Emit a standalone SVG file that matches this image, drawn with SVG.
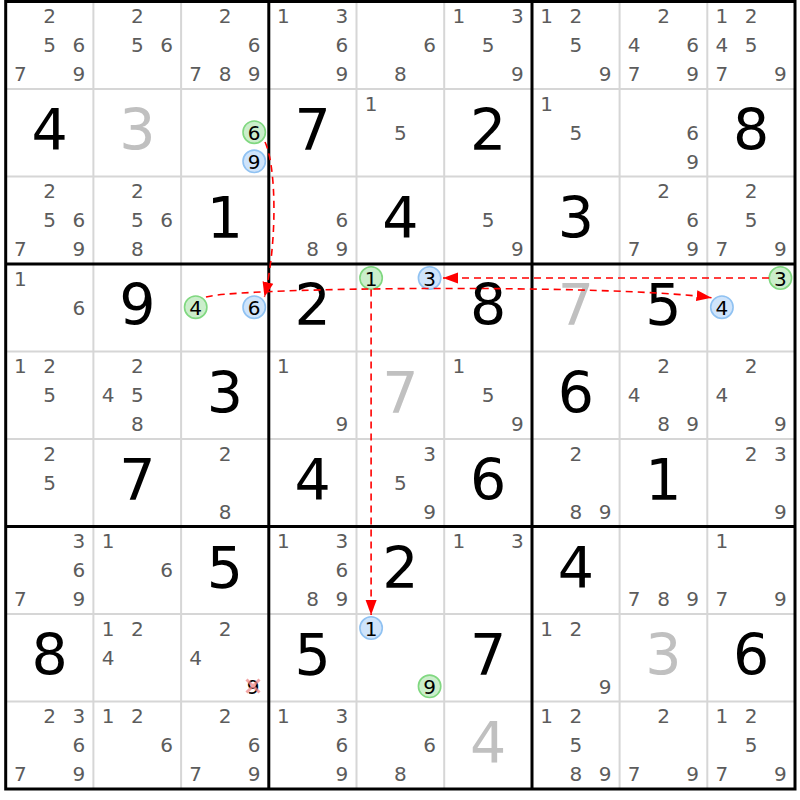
<svg xmlns="http://www.w3.org/2000/svg" width="800" height="800" viewBox="0 0 800 800">
<style>
text{font-family:"DejaVu Sans","Liberation Sans",sans-serif;text-anchor:middle}
.c{font-size:20px;fill:#5c5c5c}
.k{font-size:20px;fill:#000}
.b{font-size:57px;fill:#000}
.g{font-size:57px;fill:#c0c0c0}
.thin{stroke:#d6d6d6;stroke-width:2;fill:none}
.thick{stroke:#000;stroke-width:3;fill:none}
.gc{fill:#cbeecb;stroke:#80d880;stroke-width:1.6}
.bc{fill:#cfe4fb;stroke:#90c2f2;stroke-width:1.6}
.arr{stroke:#f00;stroke-width:1.6;fill:none;stroke-dasharray:7,5;marker-end:url(#ah)}
.x{stroke:#f08888;stroke-width:3;opacity:0.75}
</style>
<defs>
<marker id="ah" markerUnits="userSpaceOnUse" markerWidth="16" markerHeight="12" refX="15" refY="6" orient="auto">
<path d="M0,0.5 L15,6 L0,11.5 z" fill="#f00"/>
</marker>
</defs>
<rect x="0" y="0" width="800" height="800" fill="#fff"/>
<g id="grid">
<path class="thin" d="M93.4,1.5V789M181.1,1.5V789M356.5,1.5V789M444.2,1.5V789M619.6,1.5V789M707.3,1.5V789M5.7,89H795M5.7,176.5H795M5.7,351.5H795M5.7,439H795M5.7,614H795M5.7,701.5H795"/>
<path class="thick" d="M268.8,1.5V789M532,1.5V789M5.7,264H795M5.7,526.5H795"/>
<rect class="thick" x="5.7" y="1.5" width="789.3" height="787.5"/>
</g>
<!-- Row 0 -->
<g id="r0c0"><text class="c" x="49.6" y="23">2</text><text class="c" x="49.6" y="52.2">5</text><text class="c" x="78.8" y="52.2">6</text><text class="c" x="20.3" y="81.3">7</text><text class="c" x="78.8" y="81.3">9</text></g>
<g id="r0c1"><text class="c" x="137.3" y="23">2</text><text class="c" x="137.3" y="52.2">5</text><text class="c" x="166.5" y="52.2">6</text></g>
<g id="r0c2"><text class="c" x="225" y="23">2</text><text class="c" x="254.2" y="52.2">6</text><text class="c" x="195.7" y="81.3">7</text><text class="c" x="225" y="81.3">8</text><text class="c" x="254.2" y="81.3">9</text></g>
<g id="r0c3"><text class="c" x="283.4" y="23">1</text><text class="c" x="341.9" y="23">3</text><text class="c" x="341.9" y="52.2">6</text><text class="c" x="341.9" y="81.3">9</text></g>
<g id="r0c4"><text class="c" x="429.6" y="52.2">6</text><text class="c" x="400.4" y="81.3">8</text></g>
<g id="r0c5"><text class="c" x="458.8" y="23">1</text><text class="c" x="517.3" y="23">3</text><text class="c" x="488.1" y="52.2">5</text><text class="c" x="517.3" y="81.3">9</text></g>
<g id="r0c6"><text class="c" x="546.5" y="23">1</text><text class="c" x="575.8" y="23">2</text><text class="c" x="575.8" y="52.2">5</text><text class="c" x="605" y="81.3">9</text></g>
<g id="r0c7"><text class="c" x="663.5" y="23">2</text><text class="c" x="634.2" y="52.2">4</text><text class="c" x="692.7" y="52.2">6</text><text class="c" x="634.2" y="81.3">7</text><text class="c" x="692.7" y="81.3">9</text></g>
<g id="r0c8"><text class="c" x="721.9" y="23">1</text><text class="c" x="751.2" y="23">2</text><text class="c" x="721.9" y="52.2">4</text><text class="c" x="751.2" y="52.2">5</text><text class="c" x="721.9" y="81.3">7</text><text class="c" x="780.4" y="81.3">9</text></g>
<!-- Row 1 -->
<g id="r1c0"><text class="b" x="49.6" y="150">4</text></g>
<g id="r1c1"><text class="g" x="137.3" y="150">3</text></g>
<g id="r1c2"><circle class="gc" cx="254.2" cy="132.2" r="11.2"/><text class="k" x="254.2" y="139.7">6</text><circle class="bc" cx="254.2" cy="161.3" r="11.2"/><text class="k" x="254.2" y="168.8">9</text></g>
<g id="r1c3"><text class="b" x="312.7" y="150">7</text></g>
<g id="r1c4"><text class="c" x="371.1" y="110.5">1</text><text class="c" x="400.4" y="139.7">5</text></g>
<g id="r1c5"><text class="b" x="488.1" y="150">2</text></g>
<g id="r1c6"><text class="c" x="546.5" y="110.5">1</text><text class="c" x="575.8" y="139.7">5</text></g>
<g id="r1c7"><text class="c" x="692.7" y="139.7">6</text><text class="c" x="692.7" y="168.8">9</text></g>
<g id="r1c8"><text class="b" x="751.2" y="150">8</text></g>
<!-- Row 2 -->
<g id="r2c0"><text class="c" x="49.6" y="198">2</text><text class="c" x="49.6" y="227.2">5</text><text class="c" x="78.8" y="227.2">6</text><text class="c" x="20.3" y="256.3">7</text><text class="c" x="78.8" y="256.3">9</text></g>
<g id="r2c1"><text class="c" x="137.3" y="198">2</text><text class="c" x="137.3" y="227.2">5</text><text class="c" x="166.5" y="227.2">6</text><text class="c" x="137.3" y="256.3">8</text></g>
<g id="r2c2"><text class="b" x="225" y="237.5">1</text></g>
<g id="r2c3"><text class="c" x="341.9" y="227.2">6</text><text class="c" x="312.7" y="256.3">8</text><text class="c" x="341.9" y="256.3">9</text></g>
<g id="r2c4"><text class="b" x="400.4" y="237.5">4</text></g>
<g id="r2c5"><text class="c" x="488.1" y="227.2">5</text><text class="c" x="517.3" y="256.3">9</text></g>
<g id="r2c6"><text class="b" x="575.8" y="237.5">3</text></g>
<g id="r2c7"><text class="c" x="663.5" y="198">2</text><text class="c" x="692.7" y="227.2">6</text><text class="c" x="634.2" y="256.3">7</text><text class="c" x="692.7" y="256.3">9</text></g>
<g id="r2c8"><text class="c" x="751.2" y="198">2</text><text class="c" x="751.2" y="227.2">5</text><text class="c" x="721.9" y="256.3">7</text><text class="c" x="780.4" y="256.3">9</text></g>
<!-- Row 3 -->
<g id="r3c0"><text class="c" x="20.3" y="285.5">1</text><text class="c" x="78.8" y="314.7">6</text></g>
<g id="r3c1"><text class="b" x="137.3" y="325">9</text></g>
<g id="r3c2"><circle class="gc" cx="195.7" cy="307.2" r="11.2"/><text class="k" x="195.7" y="314.7">4</text><circle class="bc" cx="254.2" cy="307.2" r="11.2"/><text class="k" x="254.2" y="314.7">6</text></g>
<g id="r3c3"><text class="b" x="312.7" y="325">2</text></g>
<g id="r3c4"><circle class="gc" cx="371.1" cy="278" r="11.2"/><text class="k" x="371.1" y="285.5">1</text><circle class="bc" cx="429.6" cy="278" r="11.2"/><text class="k" x="429.6" y="285.5">3</text></g>
<g id="r3c5"><text class="b" x="488.1" y="325">8</text></g>
<g id="r3c6"><text class="g" x="575.8" y="325">7</text></g>
<g id="r3c7"><text class="b" x="663.5" y="325">5</text></g>
<g id="r3c8"><circle class="gc" cx="780.4" cy="278" r="11.2"/><text class="k" x="780.4" y="285.5">3</text><circle class="bc" cx="721.9" cy="307.2" r="11.2"/><text class="k" x="721.9" y="314.7">4</text></g>
<!-- Row 4 -->
<g id="r4c0"><text class="c" x="20.3" y="373">1</text><text class="c" x="49.6" y="373">2</text><text class="c" x="49.6" y="402.2">5</text></g>
<g id="r4c1"><text class="c" x="137.3" y="373">2</text><text class="c" x="108" y="402.2">4</text><text class="c" x="137.3" y="402.2">5</text><text class="c" x="137.3" y="431.3">8</text></g>
<g id="r4c2"><text class="b" x="225" y="412.5">3</text></g>
<g id="r4c3"><text class="c" x="283.4" y="373">1</text><text class="c" x="341.9" y="431.3">9</text></g>
<g id="r4c4"><text class="g" x="400.4" y="412.5">7</text></g>
<g id="r4c5"><text class="c" x="458.8" y="373">1</text><text class="c" x="488.1" y="402.2">5</text><text class="c" x="517.3" y="431.3">9</text></g>
<g id="r4c6"><text class="b" x="575.8" y="412.5">6</text></g>
<g id="r4c7"><text class="c" x="663.5" y="373">2</text><text class="c" x="634.2" y="402.2">4</text><text class="c" x="663.5" y="431.3">8</text><text class="c" x="692.7" y="431.3">9</text></g>
<g id="r4c8"><text class="c" x="751.2" y="373">2</text><text class="c" x="721.9" y="402.2">4</text><text class="c" x="780.4" y="431.3">9</text></g>
<!-- Row 5 -->
<g id="r5c0"><text class="c" x="49.6" y="460.5">2</text><text class="c" x="49.6" y="489.7">5</text></g>
<g id="r5c1"><text class="b" x="137.3" y="500">7</text></g>
<g id="r5c2"><text class="c" x="225" y="460.5">2</text><text class="c" x="225" y="518.8">8</text></g>
<g id="r5c3"><text class="b" x="312.7" y="500">4</text></g>
<g id="r5c4"><text class="c" x="429.6" y="460.5">3</text><text class="c" x="400.4" y="489.7">5</text><text class="c" x="429.6" y="518.8">9</text></g>
<g id="r5c5"><text class="b" x="488.1" y="500">6</text></g>
<g id="r5c6"><text class="c" x="575.8" y="460.5">2</text><text class="c" x="575.8" y="518.8">8</text><text class="c" x="605" y="518.8">9</text></g>
<g id="r5c7"><text class="b" x="663.5" y="500">1</text></g>
<g id="r5c8"><text class="c" x="751.2" y="460.5">2</text><text class="c" x="780.4" y="460.5">3</text><text class="c" x="780.4" y="518.8">9</text></g>
<!-- Row 6 -->
<g id="r6c0"><text class="c" x="78.8" y="548">3</text><text class="c" x="78.8" y="577.2">6</text><text class="c" x="20.3" y="606.3">7</text><text class="c" x="78.8" y="606.3">9</text></g>
<g id="r6c1"><text class="c" x="108" y="548">1</text><text class="c" x="166.5" y="577.2">6</text></g>
<g id="r6c2"><text class="b" x="225" y="587.5">5</text></g>
<g id="r6c3"><text class="c" x="283.4" y="548">1</text><text class="c" x="341.9" y="548">3</text><text class="c" x="341.9" y="577.2">6</text><text class="c" x="312.7" y="606.3">8</text><text class="c" x="341.9" y="606.3">9</text></g>
<g id="r6c4"><text class="b" x="400.4" y="587.5">2</text></g>
<g id="r6c5"><text class="c" x="458.8" y="548">1</text><text class="c" x="517.3" y="548">3</text></g>
<g id="r6c6"><text class="b" x="575.8" y="587.5">4</text></g>
<g id="r6c7"><text class="c" x="634.2" y="606.3">7</text><text class="c" x="663.5" y="606.3">8</text><text class="c" x="692.7" y="606.3">9</text></g>
<g id="r6c8"><text class="c" x="721.9" y="548">1</text><text class="c" x="721.9" y="606.3">7</text><text class="c" x="780.4" y="606.3">9</text></g>
<!-- Row 7 -->
<g id="r7c0"><text class="b" x="49.6" y="675">8</text></g>
<g id="r7c1"><text class="c" x="108" y="635.5">1</text><text class="c" x="137.3" y="635.5">2</text><text class="c" x="108" y="664.7">4</text></g>
<g id="r7c2"><text class="c" x="225" y="635.5">2</text><text class="c" x="195.7" y="664.7">4</text><text class="k" x="253" y="693.8">9</text><path class="x" d="M246.5,679.5L259.5,692.5M259.5,679.5L246.5,692.5"/></g>
<g id="r7c3"><text class="b" x="312.7" y="675">5</text></g>
<g id="r7c4"><circle class="bc" cx="371.1" cy="628" r="11.2"/><text class="k" x="371.1" y="635.5">1</text><circle class="gc" cx="429.6" cy="686.3" r="11.2"/><text class="k" x="429.6" y="693.8">9</text></g>
<g id="r7c5"><text class="b" x="488.1" y="675">7</text></g>
<g id="r7c6"><text class="c" x="546.5" y="635.5">1</text><text class="c" x="575.8" y="635.5">2</text><text class="c" x="605" y="693.8">9</text></g>
<g id="r7c7"><text class="g" x="663.5" y="675">3</text></g>
<g id="r7c8"><text class="b" x="751.2" y="675">6</text></g>
<!-- Row 8 -->
<g id="r8c0"><text class="c" x="49.6" y="723">2</text><text class="c" x="78.8" y="723">3</text><text class="c" x="78.8" y="752.2">6</text><text class="c" x="20.3" y="781.3">7</text><text class="c" x="78.8" y="781.3">9</text></g>
<g id="r8c1"><text class="c" x="108" y="723">1</text><text class="c" x="137.3" y="723">2</text><text class="c" x="166.5" y="752.2">6</text></g>
<g id="r8c2"><text class="c" x="225" y="723">2</text><text class="c" x="254.2" y="752.2">6</text><text class="c" x="195.7" y="781.3">7</text><text class="c" x="254.2" y="781.3">9</text></g>
<g id="r8c3"><text class="c" x="283.4" y="723">1</text><text class="c" x="341.9" y="723">3</text><text class="c" x="341.9" y="752.2">6</text><text class="c" x="341.9" y="781.3">9</text></g>
<g id="r8c4"><text class="c" x="429.6" y="752.2">6</text><text class="c" x="400.4" y="781.3">8</text></g>
<g id="r8c5"><text class="g" x="488.1" y="762.5">4</text></g>
<g id="r8c6"><text class="c" x="546.5" y="723">1</text><text class="c" x="575.8" y="723">2</text><text class="c" x="575.8" y="752.2">5</text><text class="c" x="575.8" y="781.3">8</text><text class="c" x="605" y="781.3">9</text></g>
<g id="r8c7"><text class="c" x="663.5" y="723">2</text><text class="c" x="634.2" y="781.3">7</text><text class="c" x="692.7" y="781.3">9</text></g>
<g id="r8c8"><text class="c" x="721.9" y="723">1</text><text class="c" x="751.2" y="723">2</text><text class="c" x="751.2" y="752.2">5</text><text class="c" x="721.9" y="781.3">7</text><text class="c" x="780.4" y="781.3">9</text></g>
<!-- Connectors -->
<g id="connectors">
<path class="arr" d="M265,142 C276,165 278,240 264.5,297"/>
<path class="arr" d="M206,297 C240,287 610,284 711.5,297.7"/>
<path class="arr" d="M769,278 L443,278"/>
<path class="arr" d="M371.1,289.5 L371.1,615"/>
</g>
</svg>
